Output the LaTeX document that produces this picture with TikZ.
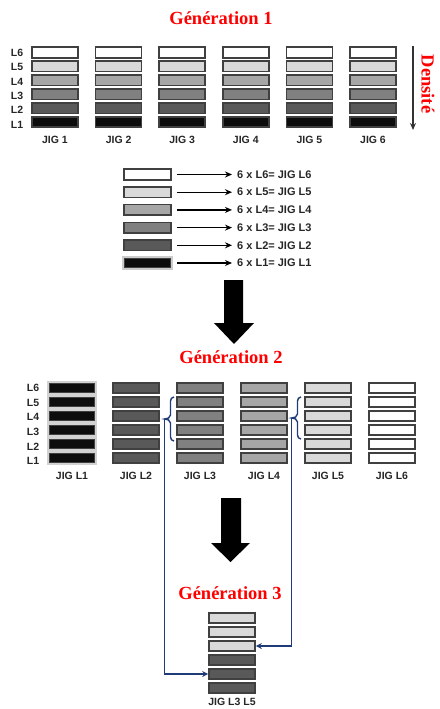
\documentclass[tikz,border=0pt]{standalone}
\usepackage{fontspec}
\setmainfont{Liberation Serif}
\setsansfont{Liberation Sans}
\usepackage{tikz}
\usetikzlibrary{arrows.meta}
\usepackage{xcolor}
\definecolor{lay6}{HTML}{FFFFFF}
\definecolor{lay5}{HTML}{D9D9D9}
\definecolor{lay4}{HTML}{A6A6A6}
\definecolor{lay3}{HTML}{808080}
\definecolor{lay2}{HTML}{595959}
\definecolor{lay1}{HTML}{0D0D0D}
\definecolor{linkblue}{HTML}{1F3C78}

\begin{document}
\begin{tikzpicture}[x=1pt, y=-1pt, >={Stealth[length=7pt,width=6pt]},
    layer/.style={draw=black!75, line width=1.6pt, minimum width=46pt, minimum height=10.5pt, inner sep=0pt},
    title/.style={text=red, font=\fontsize{18.5}{20}\selectfont\bfseries},
    lab/.style={font=\fontsize{10.5}{12}\selectfont\sffamily\bfseries, text=black!85, inner sep=1pt},
    link/.style={draw=linkblue, line width=1.4pt, -{Stealth[length=6pt,width=6pt]}},
    brace/.style={draw=linkblue, line width=1.4pt}]
    \useasboundingbox (0,0) rectangle (439,709);

    % Generation 1
    \node[title] (t1) at (221,18) {Génération 1};
    \foreach \i in {1,...,6} {
        \foreach \j in {1,...,6}
            \node[layer, fill=lay\j] (a\i\j) at ({55+63.6*(\i-1)}, {52.5+13.9*(6-\j)}) {};
        \node[lab] (ja\i) at ({55+63.6*(\i-1)}, 140) {JIG \i};
    }
    \foreach \j in {1,...,6}
        \node[lab] (la\j) at (17, {53+14.3*(6-\j)}) {L\j};
    \coordinate (d0) at (413,46);
    \coordinate (d1) at (413,130);
    \draw[->, line width=1.4pt, black!80] (d0) -- (d1);
    \node[title, rotate=-90] (dens) at (428,84) {Densité};

    % legend
    \foreach \j in {1,...,6} {
        \node[layer, fill=lay\j, minimum width=47pt] (k\j) at (147.5, {174.5+17.7*(6-\j)}) {};
        \node[lab, anchor=west, font=\fontsize{11}{12}\selectfont\sffamily\bfseries] (r\j) at (236, {174.5+17.7*(6-\j)}) {6 x L\j= JIG L\j};
        \draw[->, line width=1.2pt, shorten <=5pt, shorten >=4pt] (k\j) -- (r\j);
    }
    \draw[gray!40, line width=1.6pt] (k1.south west) rectangle (k1.north east);

    % big arrow 1
    \fill[black] (224,280) -- (243,280) -- (243,323) -- (254,323) -- (234,344) -- (214,323) -- (224,323) -- cycle;

    % Generation 2
    \node[title] (t2) at (231,357) {Génération 2};
    \foreach \i in {1,...,6} {
        \foreach \j in {1,...,6}
            \node[layer, fill=lay\i] (b\i\j) at ({72+64*(\i-1)}, {388+14*(6-\j)}) {};
        \node[lab] (jb\i) at ({72+64*(\i-1)}, 476) {JIG L\i};
    }
    \foreach \j in {1,...,6} {
        \node[lab] (lb\j) at (33, {388+14.6*(6-\j)}) {L\j};
        \draw[gray!35, line width=1.6pt] (b1\j.south west) rectangle (b1\j.north east);
    }

    % braces
    \draw[brace] (174,397) to[out=180,in=90] (170.5,401) -- (170.5,415) to[out=-90,in=0] (164.5,419)
        to[out=0,in=90] (170.5,423) -- (170.5,437) to[out=-90,in=180] (174,441);
    \draw[brace] (301,397) to[out=180,in=90] (297.5,401) -- (297.5,414) to[out=-90,in=0] (291.5,418)
        to[out=0,in=90] (297.5,422) -- (297.5,435) to[out=-90,in=180] (301,439);
    \coordinate (tipL) at (164.5,419);
    \coordinate (tipR) at (291.5,418);

    % big arrow 2
    \fill[black] (221,498) -- (241,498) -- (241,543) -- (250,543) -- (230.5,562) -- (211,543) -- (221,543) -- cycle;

    % Generation 3
    \node[title] (t3) at (230,593) {Génération 3};
    \foreach \j/\c in {6/lay5,5/lay5,4/lay5,3/lay2,2/lay2,1/lay2}
        \node[layer, fill=\c] (c\j) at (232, {618+14*(6-\j)}) {};
    \node[lab] (jc) at (232,702) {JIG L3 L5};

    \draw[link] (tipL) |- (c2.west);
    \draw[link] (tipR) |- (c4.east);
\end{tikzpicture}
\end{document}
